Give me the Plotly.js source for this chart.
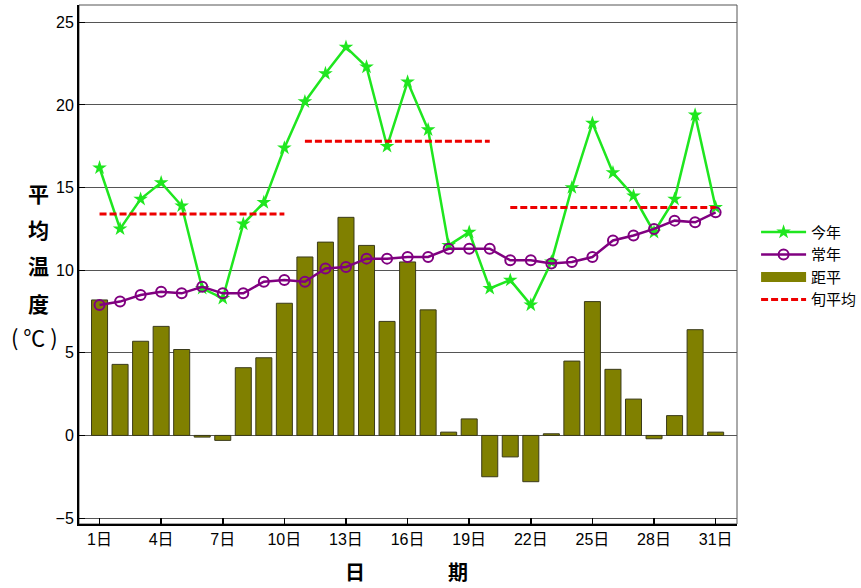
<!DOCTYPE html>
<html>
<head>
<meta charset="utf-8">
<script src="https://cdn.plot.ly/plotly-3.0.1.min.js"></script>
<style>html,body{margin:0;padding:0;background:#fff;}#chart{width:861px;height:588px;}</style>
</head>
<body>
<div id="chart"></div>
<script>
// ---- data ----
const days = [1,2,3,4,5,6,7,8,9,10,11,12,13,14,15,16,17,18,19,20,21,22,23,24,25,26,27,28,29,30,31];
const thisYear = [16.2,12.5,14.3,15.3,13.9,8.9,8.3,12.8,14.1,17.4,20.2,21.9,23.5,22.3,17.5,21.4,18.5,11.5,12.3,8.9,9.4,7.9,10.5,15.0,18.9,15.9,14.5,12.3,14.3,19.4,13.8];
const normalYear = [7.9,8.1,8.5,8.7,8.6,9.0,8.6,8.6,9.3,9.4,9.3,10.1,10.2,10.7,10.7,10.8,10.8,11.3,11.3,11.3,10.6,10.6,10.4,10.5,10.8,11.8,12.1,12.5,13.0,12.9,13.5];
const anomaly = [8.2,4.3,5.7,6.6,5.2,-0.1,-0.3,4.1,4.7,8.0,10.8,11.7,13.2,11.5,6.9,10.5,7.6,0.2,1.0,-2.5,-1.3,-2.8,0.1,4.5,8.1,4.0,2.2,-0.2,1.2,6.4,0.2];
const dekadStart = [1,11,21];
const dekadEnd = [10,20,31];
const dekadMean = [13.4,17.8,13.8];
const xTickVals = [1,4,7,10,13,16,19,22,25,28,31];
const xTickText = ['1日','4日','7日','10日','13日','16日','19日','22日','25日','28日','31日'];
const yTickVals = [-5,0,5,10,15,20,25];
const seriesNames = ['今年','常年','距平','旬平均'];
const yTitleChars = ['平','均','温','度','( ℃ )'];
const xTitleChars = ['日','期'];

// build dekad segments
const dx = [], dy = [];
for (let i = 0; i < dekadStart.length; i++) {
  dx.push(dekadStart[i], dekadEnd[i], null);
  dy.push(dekadMean[i], dekadMean[i], null);
}

const cjk = '"Noto Sans CJK SC", "Liberation Sans", sans-serif';
const tickFont = '"Liberation Sans", "Noto Sans CJK SC", sans-serif';
const olive = '#808000';

const traces = [
  {type:'bar', x: days, y: anomaly, name: seriesNames[2], width: 0.78, showlegend:false,
   marker:{color:olive, line:{color:'#3a3a1a', width:1}}},
  {type:'scatter', mode:'lines+markers', x: days, y: thisYear, name: seriesNames[0],
   line:{color:'#1fe61f', width:2.5}, marker:{symbol:'star', size:11, color:'#1fe61f'}, legendrank: 1},
  {type:'scatter', mode:'lines+markers', x: days, y: normalYear, name: seriesNames[1],
   line:{color:'#800080', width:2.5}, marker:{symbol:'circle', size:10, color:'rgba(255,255,255,0)', line:{color:'#800080', width:2}}, legendrank: 2},
  // legend swatch for the bars (wide rectangle like the reference)
  {type:'scatter', mode:'lines', x:[null], y:[null], name: seriesNames[2],
   line:{color:olive, width:15}, legendrank: 3, hoverinfo:'skip'},
  {type:'scatter', mode:'lines', x: dx, y: dy, name: seriesNames[3], connectgaps:false,
   line:{color:'#ee0000', width:3, dash:'7px,3px'}, legendrank: 4}
];

// y title annotations
const yCharPos = [0.638, 0.568, 0.499, 0.426, 0.362];
const annotations = [];
yTitleChars.forEach((c, i) => {
  annotations.push({xref:'paper', yref:'paper', x: i < 4 ? -0.0623 : -0.068, y:yCharPos[i], text: i < 4 ? '<b>'+c+'</b>' : c,
    showarrow:false, xanchor:'center', yanchor:'middle', borderpad:0,
    font:{family:cjk, size: i < 4 ? 21 : 22, color:'#000'}});
});
const xCharPos = [13.42, 18.44];
xTitleChars.forEach((c, i) => {
  annotations.push({xref:'x', yref:'paper', x:xCharPos[i], y:-0.092, text:'<b>'+c+'</b>',
    showarrow:false, xanchor:'center', yanchor:'middle',
    font:{family:cjk, size:20, color:'#000'}});
});

const layout = {
  width: 861, height: 588,
  margin:{l:79, r:124, t:5, b:64, autoexpand:false},
  paper_bgcolor:'#fff', plot_bgcolor:'#fff',
  showlegend: true,
  legend:{x:1.029, y:0.594, xanchor:'left', yanchor:'top', bgcolor:'rgba(0,0,0,0)',
    font:{family:cjk, size:15, color:'#000'}, itemwidth:45, traceorder:'normal', tracegroupgap:0},
  bargap: 0.2,
  xaxis:{range:[0, 32.04], tickmode:'array', tickvals:xTickVals, ticktext:xTickText,
    ticks:'inside', ticklen:6, tickwidth:1.5, tickcolor:'#000',
    showgrid:false, zeroline:false, showline:true, linecolor:'#000', linewidth:2,
    tickfont:{family:tickFont, size:16, color:'#000'}},
  yaxis:{range:[-5.36, 26.05], tickmode:'array', tickvals:yTickVals,
    ticks:'inside', ticklen:6, tickwidth:1, tickcolor:'#000',
    showgrid:true, gridcolor:'#555', gridwidth:1, zeroline:true, zerolinecolor:'#555', zerolinewidth:1,
    showline:true, linecolor:'#000', linewidth:2,
    tickfont:{family:tickFont, size:16, color:'#000'}},
  shapes:[{type:'rect', xref:'paper', yref:'paper', x0:0, x1:1, y0:0, y1:1, line:{color:'#555', width:1}, layer:'below'}],
  annotations: annotations
};

Plotly.newPlot('chart', traces, layout, {staticPlot:true});
</script>
</body>
</html>
